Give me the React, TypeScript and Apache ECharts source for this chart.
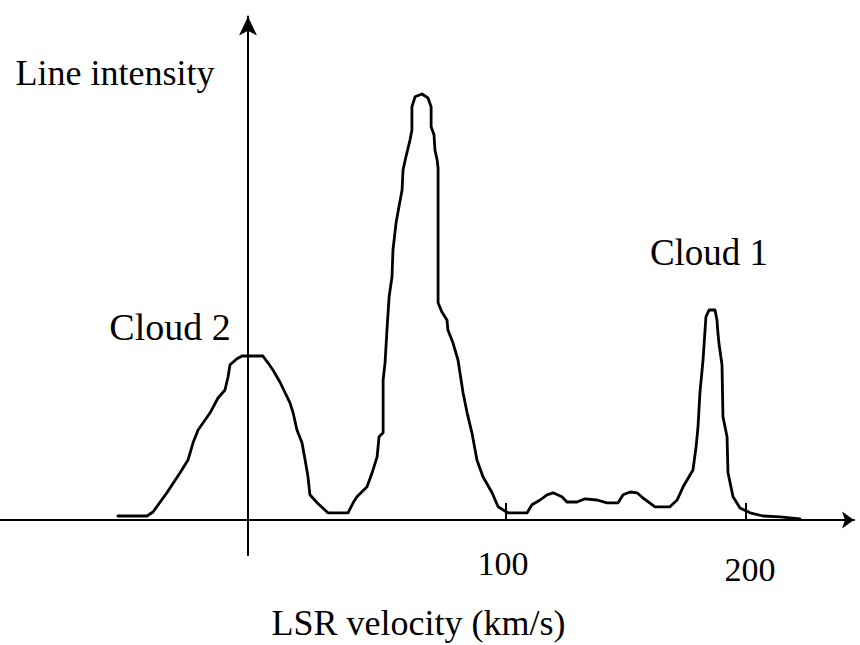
import React, { useEffect, useRef } from "react";
import * as echarts from "echarts";

// LSR velocity (km/s) of each traced point of the spectrum
const velocity = [
  -61.7, -49.6, -47.1, -41.3, -35.8, -32.5, -30.4, -28.3, -23.3, -20.0,
  -17.1, -15.8, -15.0, -12.1, -10.0, -1.3, 0.8, 2.9, 5.8, 10.0,
  11.3, 12.9, 15.0, 16.3, 17.5, 18.3, 21.3, 25.8, 34.2, 36.3,
  37.9, 42.1, 44.2, 46.3, 47.1, 48.8, 48.8, 49.6, 50.4, 51.3,
  52.5, 52.9, 54.2, 55.4, 56.7, 57.1, 58.3, 60.0, 60.8, 60.8,
  62.1, 65.0, 67.5, 68.8, 68.8, 70.0, 70.4, 71.3, 71.7, 71.7,
  73.3, 75.4, 75.8, 77.9, 80.0, 82.1, 83.8, 85.8, 87.9, 90.4,
  94.2, 96.7, 100.8, 108.8, 110.8, 114.2, 117.1, 119.6, 123.3, 125.4,
  129.6, 132.9, 137.9, 142.1, 146.7, 148.8, 151.7, 154.6, 157.1, 162.1,
  168.3, 171.3, 173.8, 177.9, 179.2, 180.0, 180.8, 182.1, 183.3, 184.6,
  187.1, 187.9, 188.3, 188.8, 190.0, 190.4, 192.1, 192.5, 194.6, 197.5,
  201.7, 207.1, 214.2, 222.5,
];

// Line intensity (arbitrary units) at each traced point
const intensity = [
  1.0, 1.0, 2.0, 6.8, 11.8, 15.0, 19.3, 22.5, 26.8, 30.5,
  32.5, 35.8, 38.8, 40.3, 41.0, 41.0, 39.3, 37.5, 34.5, 29.3,
  26.8, 22.5, 19.3, 15.0, 10.8, 6.3, 4.3, 1.8, 1.8, 4.3,
  5.8, 8.3, 11.8, 15.8, 20.8, 21.8, 35.0, 39.3, 47.5, 55.8,
  60.8, 67.5, 74.3, 78.3, 82.5, 87.5, 90.8, 95.0, 97.5, 103.3,
  105.8, 106.5, 105.5, 103.3, 98.3, 96.3, 92.5, 90.0, 88.0, 54.3,
  52.0, 50.0, 47.5, 44.3, 40.0, 31.8, 26.8, 21.8, 15.0, 10.8,
  6.8, 3.3, 1.8, 1.8, 3.8, 5.0, 6.3, 6.8, 5.8, 4.5,
  4.5, 5.3, 5.0, 4.3, 4.3, 6.3, 7.0, 6.8, 5.5, 3.3,
  3.3, 5.0, 8.3, 12.5, 18.3, 23.3, 31.8, 40.0, 50.8, 52.5,
  52.5, 50.0, 46.8, 43.8, 38.8, 25.8, 20.8, 11.8, 5.8, 3.0,
  1.8, 1.0, 0.8, 0.3,
];

const tickValues = [100, 200];
const tickLabels = ["100", "200"];
const yAxisTitle = "Line intensity";
const xAxisTitle = "LSR velocity (km/s)";
const cloudLabels = ["Cloud 2", "Cloud 1"];

const FONT = "'Liberation Serif', 'Times New Roman', serif";

export default function App() {
  const ref = useRef<HTMLDivElement>(null);

  useEffect(() => {
    if (!ref.current) return;
    const chart = echarts.init(ref.current, null, { renderer: "svg" });
    const pxPerUnit = 2.4;
    const zeroPx = 266;
    const plotRight = 854;

    const option: any = {
      animation: false,
      backgroundColor: "#ffffff",
      grid: {
        left: 0,
        right: 860 - plotRight,
        top: 16.5,
        bottom: 90,
        containLabel: false,
        outerBoundsMode: "none",
      },
      xAxis: [
        {
          type: "value",
          min: -zeroPx / pxPerUnit,
          max: (plotRight - zeroPx) / pxPerUnit,
          axisLine: {
            show: true,
            onZero: true,
            symbol: ["none", "arrow"],
            symbolSize: [12.75, 12],
            lineStyle: { color: "#000", width: 2 },
          },
          axisTick: {
            show: true,
            inside: true,
            length: 17,
            customValues: tickValues,
            lineStyle: { color: "#000", width: 2 },
          },
          axisLabel: {
            show: true,
            customValues: tickValues,
            margin: -9,
            color: "#000",
            fontFamily: FONT,
            fontSize: 34,
            formatter: (value: number) => {
              const i = tickValues.indexOf(value);
              return i === 0 ? `{a|${tickLabels[0]}}` : `{b|${tickLabels[1]}}`;
            },
            rich: {
              a: { fontFamily: FONT, fontSize: 34, color: "#000", padding: [0, 6, 0, 0] },
              b: { fontFamily: FONT, fontSize: 34, color: "#000", padding: [6, 0, 0, 8] },
            },
          },
          splitLine: { show: false },
        },
        {
          type: "value",
          show: false,
          min: -248,
          max: plotRight - 248,
          axisLine: { onZero: false },
          splitLine: { show: false },
        },
      ],
      yAxis: {
        type: "value",
        min: -35 / 4,
        max: (520 - 16.5) / 4,
        axisLine: {
          show: true,
          onZero: true,
          onZeroAxisIndex: 1,
          symbol: ["none", "arrow"],
          symbolSize: [13.5, 19],
          lineStyle: { color: "#000", width: 2 },
        },
        axisTick: { show: false },
        axisLabel: { show: false },
        splitLine: { show: false },
      },
      series: [
        {
          type: "line",
          xAxisIndex: 0,
          yAxisIndex: 0,
          data: velocity.map((v, i) => [v, intensity[i]]),
          symbol: "none",
          showSymbol: false,
          smooth: false,
          silent: true,
          lineStyle: { color: "#000", width: 2.8, join: "round", cap: "round" },
          z: 3,
        },
      ],
      graphic: [
        {
          type: "text",
          x: 115,
          y: 73,
          style: {
            text: yAxisTitle,
            fontFamily: FONT,
            fontSize: 36,
            fill: "#000",
            align: "center",
            verticalAlign: "middle",
          },
        },
        {
          type: "text",
          x: 418.5,
          y: 622.5,
          style: {
            text: xAxisTitle,
            fontFamily: FONT,
            fontSize: 36,
            fill: "#000",
            align: "center",
            verticalAlign: "middle",
          },
        },
        {
          type: "text",
          x: 170,
          y: 327,
          style: {
            text: cloudLabels[0],
            fontFamily: FONT,
            fontSize: 38,
            fill: "#000",
            align: "center",
            verticalAlign: "middle",
          },
        },
        {
          type: "text",
          x: 709,
          y: 252.5,
          style: {
            text: cloudLabels[1],
            fontFamily: FONT,
            fontSize: 37,
            fill: "#000",
            align: "center",
            verticalAlign: "middle",
          },
        },
      ],
    };

    chart.setOption(option);
    return () => chart.dispose();
  }, []);

  return (
    <div
      ref={ref}
      style={{ position: "fixed", left: 0, top: 0, width: 860, height: 645, background: "#fff" }}
    />
  );
}
